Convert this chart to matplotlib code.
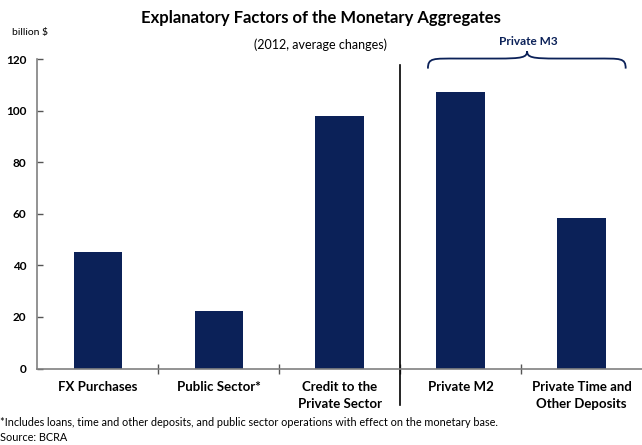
import matplotlib.pyplot as plt
import numpy as np
from matplotlib.path import Path
from matplotlib.patches import PathPatch

plt.rcParams['font.family'] = ['Lato', 'DejaVu Sans']

categories = ['FX Purchases', 'Public Sector*', 'Credit to the\nPrivate Sector',
              'Private M2', 'Private Time and\nOther Deposits']
values = [45.4, 22.3, 98.0, 107.3, 58.5]
yticks = [0, 20, 40, 60, 80, 100, 120]

navy = '#0b2158'

fig = plt.figure(figsize=(6.42, 4.45), dpi=100)
ax = fig.add_axes([0.0581, 0.1719, 0.9419, 0.6948])

x = np.arange(len(categories))
ax.bar(x, values, width=0.4, color=navy)

ax.set_xlim(-0.5, 4.5)
ax.set_ylim(0, 120)
ax.set_yticks(yticks)
ax.set_yticklabels([str(t) for t in yticks], fontweight='bold', fontsize=8.5)
ax.tick_params(axis='y', direction='in', length=4, width=1, color='#555555', pad=8)

ax.set_xticks(x)
ax.set_xticklabels(categories, fontweight='bold', fontsize=9.5, linespacing=1.5, va='top')
ax.tick_params(axis='x', which='major', length=0, pad=9)
ax.set_xticks(x[:-1] + 0.5, minor=True)
ax.tick_params(axis='x', which='minor', direction='inout', length=7, width=1, color='#555555')

for s in ['top', 'right']:
    ax.spines[s].set_visible(False)
for s in ['left', 'bottom']:
    ax.spines[s].set_color('#808080')
    ax.spines[s].set_linewidth(1.2)

# vertical divider between sources and uses
ax.plot([2.5, 2.5], [117.8, -14.2], color='black', lw=1.2, clip_on=False)

# brace over Private M3
xl, xr, xm = 2.73, 4.365, 3.55
yb, yc, yt = 116.4, 120.3, 123.2
verts = [(xl, yb),
         (xl, yc + 0.3), (xl + 0.04, yc), (xl + 0.25, yc),
         (xm - 0.25, yc),
         (xm - 0.04, yc), (xm, yc + 0.4), (xm, yt),
         (xm, yc + 0.4), (xm + 0.04, yc), (xm + 0.25, yc),
         (xr - 0.25, yc),
         (xr - 0.04, yc), (xr, yc + 0.3), (xr, yb)]
codes = [Path.MOVETO,
         Path.CURVE4, Path.CURVE4, Path.CURVE4,
         Path.LINETO,
         Path.CURVE4, Path.CURVE4, Path.CURVE4,
         Path.CURVE4, Path.CURVE4, Path.CURVE4,
         Path.LINETO,
         Path.CURVE4, Path.CURVE4, Path.CURVE4]
ax.add_patch(PathPatch(Path(verts, codes), fill=False, edgecolor=navy, lw=1.3, clip_on=False))

fig.text(0.5, 0.96, 'Explanatory Factors of the Monetary Aggregates',
         ha='center', va='center', fontsize=12, fontweight='bold')
fig.text(0.5, 0.899, '(2012, average changes)', ha='center', va='center', fontsize=9)
fig.text(528 / 642, 0.906, 'Private M3', ha='center', va='center',
         fontsize=8.5, fontweight='bold', color=navy)
fig.text(0.019, 0.926, 'billion $', ha='left', va='center', fontsize=7.5)
fig.text(0.0, 0.05, '*Includes loans, time and other deposits, and public sector operations with effect on the monetary base.',
         ha='left', va='center', fontsize=7.8)
fig.text(0.0, 0.017, 'Source: BCRA', ha='left', va='center', fontsize=7.8)

fig.savefig('out.png', dpi=100)
